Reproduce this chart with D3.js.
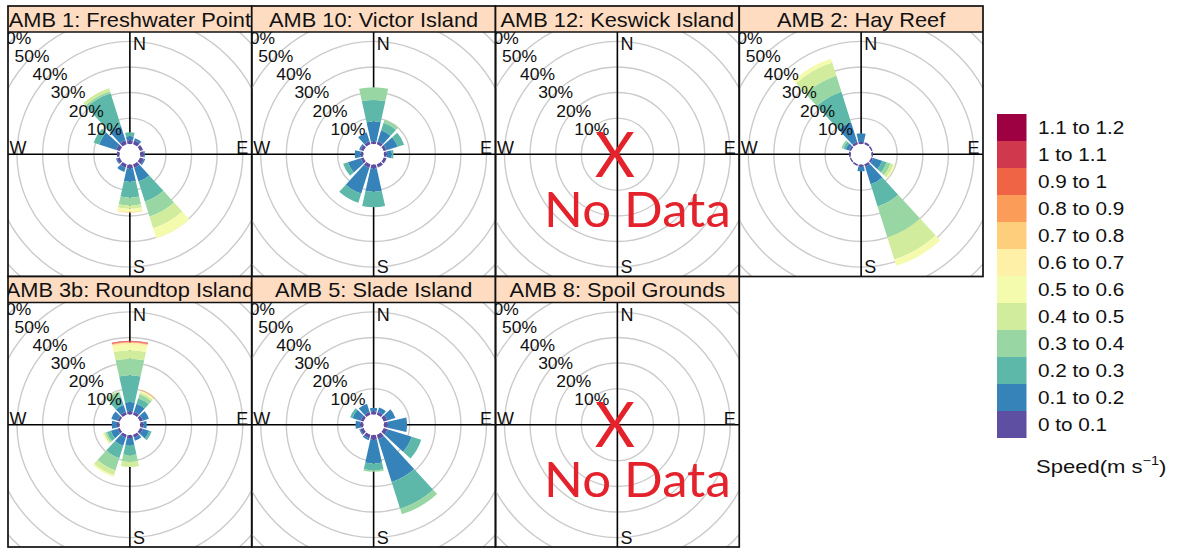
<!DOCTYPE html>
<html><head><meta charset="utf-8">
<script src="https://cdn.jsdelivr.net/npm/d3@7"></script>
<style>
body{margin:0;background:#fff;}
svg{display:block;font-family:"Liberation Sans",Arial,sans-serif;}
</style>
</head><body>
<svg id="chart" width="1179" height="549"></svg>
<script>
// ---------------- DATA ----------------
const speedClasses = ["0 to 0.1","0.1 to 0.2","0.2 to 0.3","0.3 to 0.4","0.4 to 0.5","0.5 to 0.6",
                      "0.6 to 0.7","0.7 to 0.8","0.8 to 0.9","0.9 to 1","1 to 1.1","1.1 to 1.2"];
const directions = [0,30,60,90,120,150,180,210,240,270,300,330];
const percentTicks = [10,20,30,40,50,60];
const compassLabels = ["N","E","S","W"];
const panelTitles = ["AMB 1: Freshwater Point","AMB 10: Victor Island","AMB 12: Keswick Island","AMB 2: Hay Reef",
                     "AMB 3b: Roundtop Island","AMB 5: Slade Island","AMB 8: Spoil Grounds"];
// cumulative frequency (%) at the outer edge of each speed class, one row per direction
const amb1 = [
  [1.4,3.0,4.5],[1.5,2.5],[1.3],[1.4,1.8],[1.6,2.2],[1.5,7.1,15.3,21.4,26.2,30.3],
  [1.5,6.6,12.8,15.9,17.2,18.2,18.5,18.7],[1.4,3.2],[1.2,1.6],[1.0],[1.5,8.5,10.7],[1.6,7.5,20.9,21.7,22.9]
];
const amb10 = [
  [0.9,8.7,17.1,22.1],[1.2,5.7,8.8,10.0],[1.2,5.7,8.4],[1.0,3.0,3.7],[1.2],[1.3],
  [1.5,10.5,16.6],[1.5,12.0,15.8],[1.2,6.4,8.4],[1.0,3.3],[1.2,1.8],[1.2,4.9]
];
const amb12 = null; // no data
const amb2 = [
  [0.8,4.1],[0.8],[0.6],[0.6],[0.8,4.5,6.4,8.0,9.2,9.8],[1.0,8.2,17.3,30.0,39.0,41.6],
  [0.8,2.6],[0.7],[0.6],[0.7],[0.8,2.2,3.2,4.0],[1.0,9.0,21.5,28.0,33.5,35.0]
];
const amb3b = [
  [1.2,4.8,15.2,21.7,25.0,27.0,27.8,28.0,28.2,28.5,28.7],[1.2,4.5,6.8,8.4,9.2,9.6,9.8,10.0,10.2],
  [1.2,3.7],[1.2,2.5],[1.2,3.8,4.8],[1.2,2.5],[1.2,3.9,7.8,10.4,12.4],[1.2,4.5,9.6,14.6,16.6,17.2],
  [1.0,3.7,5.3,6.0,6.6,6.9,7.1],[1.0,3.0],[1.0,3.5],[1.2,4.0,7.5,9.5,9.8]
];
const amb5 = [
  [1.2,2.5],[1.2,3.0],[1.5,4.8],[1.5,9.0],[1.6,11.5,15.4],[1.8,19.3,30.3,32.6],
  [1.8,11.0,13.7,14.3],[1.5,2.2],[1.4,1.8],[1.2,3.0],[1.2,4.5,5.5],[1.2,4.5]
];
const amb8 = null; // no data
const panelData = [amb1, amb10, amb12, amb2, amb3b, amb5, amb8];

// ---------------- STYLE / LAYOUT ----------------
const palette = ["#5E4FA2","#3683BA","#5DB8A9","#98D6A4","#D1EC9C","#F4FBAD",
                 "#FEF1A7","#FECE7C","#FB9C59","#EE6445","#D0384E","#9E0142"];
const color = d3.scaleOrdinal().domain(speedClasses).range(palette);
const left0 = 8, pw = 243.75, stripH = 26, plotH = 244.5;
const rowTops = [6, 276.5];
const rScale = d3.scaleLinear().domain([0, 10]).range([10.5, 36.1]);
const halfWidth = 12.5; // degrees of each wedge either side of direction

const svg = d3.select("#chart");
const defs = svg.append("defs");

const arc = d3.arc()
  .innerRadius(d => rScale(d.y0))
  .outerRadius(d => rScale(d.y1))
  .startAngle(d => (d.dir - halfWidth) * Math.PI / 180)
  .endAngle(d => (d.dir + halfWidth) * Math.PI / 180);

panelTitles.forEach((title, i) => {
  const row = i < 4 ? 0 : 1, col = i < 4 ? i : i - 4;
  const x0 = left0 + col * pw, y0 = rowTops[row];
  const py0 = y0 + stripH, py1 = py0 + plotH, px1 = x0 + pw;
  const cx = x0 + pw / 2, cy = py0 + plotH / 2;

  defs.append("clipPath").attr("id", "pc" + i)
    .append("rect").attr("x", x0).attr("y", py0).attr("width", pw).attr("height", plotH);
  defs.append("clipPath").attr("id", "sc" + i)
    .append("rect").attr("x", x0).attr("y", y0).attr("width", pw).attr("height", stripH);

  // strip
  svg.append("rect").attr("x", x0).attr("y", y0).attr("width", pw).attr("height", stripH)
    .attr("fill", "#fddcc2");
  svg.append("g").attr("clip-path", `url(#sc${i})`)
    .append("text")
    .attr("transform", `translate(${cx},${y0 + 20.5}) scale(1.09,1)`)
    .attr("text-anchor", "middle").attr("font-size", 20).attr("fill", "#111")
    .text(title);

  const g = svg.append("g").attr("clip-path", `url(#pc${i})`);
  // grid rings
  g.selectAll("circle.ring").data(percentTicks).join("circle")
    .attr("cx", cx).attr("cy", cy).attr("r", d => rScale(d))
    .attr("fill", "none").attr("stroke", "#cbcbcb").attr("stroke-width", 1.4);
  // axes lines
  g.append("line").attr("x1", x0).attr("x2", px1).attr("y1", cy).attr("y2", cy)
    .attr("stroke", "#000").attr("stroke-width", 1.6);
  g.append("line").attr("x1", cx).attr("x2", cx).attr("y1", py0).attr("y2", py1)
    .attr("stroke", "#000").attr("stroke-width", 1.6);

  const data = panelData[i];
  if (data) {
    const segs = [];
    data.forEach((cum, di) => {
      cum.forEach((v, k) => {
        segs.push({dir: directions[di], y0: k === 0 ? 0 : cum[k - 1], y1: v, cls: speedClasses[k]});
      });
    });
    g.append("g").attr("transform", `translate(${cx},${cy})`)
      .selectAll("path").data(segs).join("path")
      .attr("d", arc).attr("fill", d => color(d.cls));
    g.append("circle").attr("cx", cx).attr("cy", cy).attr("r", rScale(0) - 0.3).attr("fill", "#fff");
  }

  // percent labels along 315 degrees
  const a = 315 * Math.PI / 180;
  g.selectAll("text.pct").data(percentTicks).join("text")
    .attr("transform", d => `translate(${cx + rScale(d) * Math.sin(a)},${cy - rScale(d) * Math.cos(a)}) scale(1.06,1)`)
    .attr("text-anchor", "middle").attr("dy", "0.36em")
    .attr("font-size", 16.5).attr("fill", "#111")
    .text(d => d + "%");

  // compass labels
  const cl = [
    {t: compassLabels[0], x: cx + 3, y: py0 + 18, anchor: "start"},
    {t: compassLabels[1], x: px1 - 3.5, y: cy, anchor: "end"},
    {t: compassLabels[2], x: cx + 3, y: py1 - 3.5, anchor: "start"},
    {t: compassLabels[3], x: x0 + 1.5, y: cy, anchor: "start"}
  ];
  g.selectAll("text.cmp").data(cl).join("text")
    .attr("x", d => d.x).attr("y", d => d.y).attr("text-anchor", d => d.anchor)
    .attr("font-size", 18).attr("fill", "#111").text(d => d.t);

  if (!data) {
    svg.append("text").attr("x", cx - 2.5).attr("y", cy + 22.5).attr("text-anchor", "middle")
      .attr("font-family", "Lato, 'Open Sans', sans-serif").attr("font-size", 62)
      .attr("fill", "#e4222b").text("X");
    svg.append("text").attr("transform", `translate(${cx + 20},${cy + 72.5}) scale(1.04,1)`)
      .attr("text-anchor", "middle")
      .attr("font-family", "Lato, 'Open Sans', sans-serif").attr("font-size", 49)
      .attr("fill", "#e4222b").text("No Data");
  }

  // borders
  svg.append("rect").attr("x", x0).attr("y", y0).attr("width", pw).attr("height", stripH + plotH)
    .attr("fill", "none").attr("stroke", "#111").attr("stroke-width", 1.7);
  svg.append("line").attr("x1", x0).attr("x2", px1).attr("y1", py0).attr("y2", py0)
    .attr("stroke", "#111").attr("stroke-width", 1.7);
});

// ---------------- LEGEND ----------------
const lgX = 997, lgY = 114, lgH = 27, lgW = 29.5;
const legendOrder = speedClasses.slice().reverse();
const lg = svg.append("g");
lg.selectAll("rect").data(legendOrder).join("rect")
  .attr("x", lgX).attr("y", (d, i) => lgY + i * lgH).attr("width", lgW).attr("height", lgH)
  .attr("fill", d => color(d));
lg.selectAll("text").data(legendOrder).join("text")
  .attr("transform", (d, i) => `translate(1038,${lgY + i * lgH + lgH / 2 + 6.5}) scale(1.12,1)`)
  .attr("font-size", 18.5).attr("fill", "#111").text(d => d);
const st = lg.append("text").attr("transform", "translate(1036,473) scale(1.16,1)")
  .attr("font-size", 19).attr("fill", "#111");
st.append("tspan").text("Speed(m s");
st.append("tspan").attr("font-size", 12.5).attr("dy", -8).text("\u22121");
st.append("tspan").attr("dy", 8).text(")");
</script>
</body></html>
